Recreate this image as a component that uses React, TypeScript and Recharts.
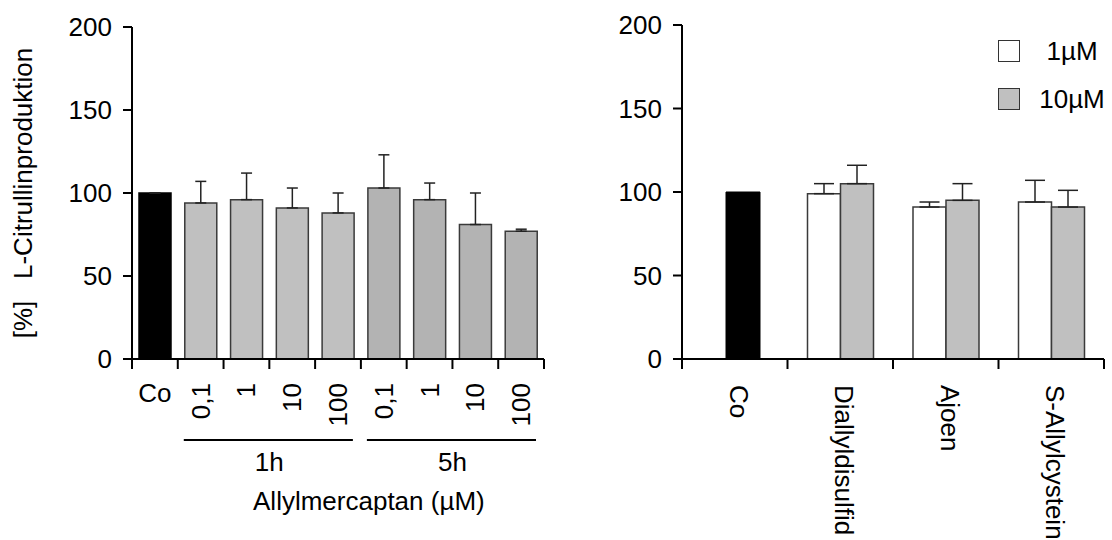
import React from 'react';
import { BarChart, Bar, XAxis, YAxis, ErrorBar, Cell, Legend } from 'recharts';

const FONT = '"Liberation Sans", Arial, Helvetica, sans-serif';

// linkes Diagramm: Allylmercaptan
const mercLabels = ['Co', '0,1', '1', '10', '100', '0,1', '1', '10', '100'];
const mercGroups = ['', '1h', '1h', '1h', '1h', '5h', '5h', '5h', '5h'];
const mercValues = [100, 94, 96, 91, 88, 103, 96, 81, 77];
const mercErrors = [0, 13, 16, 12, 12, 20, 10, 19, 1.2];

// rechtes Diagramm: Knoblauch-Inhaltsstoffe
const substances = ['Co', 'Diallyldisulfid', 'Ajoen', 'S-Allylcystein'];
const coValues = [100, null, null, null];
const oneMicro = [null, 99, 91, 94];
const oneMicroErr = [0, 6, 3, 13];
const tenMicro = [null, 105, 95, 91];
const tenMicroErr = [0, 11, 10, 10];
const legendNames = ['1µM', '10µM'];

const yTicks = [0, 50, 100, 150, 200];

const GROUP_COLORS: Record<string, string> = { '': '#000000', '1h': '#c0c0c0', '5h': '#b3b3b3' };

const mercData = mercLabels.map((label, i) => ({
  label: `${mercGroups[i]} ${label}`,
  value: mercValues[i],
  err: [0, mercErrors[i]],
}));

const substData = substances.map((name, i) => ({
  name,
  co: coValues[i],
  v1: oneMicro[i],
  v1err: [0, oneMicroErr[i]],
  v10: tenMicro[i],
  v10err: [0, tenMicroErr[i]],
}));

const halfBand = (props: any) => {
  const { payload, width, visibleTicksCount } = props;
  if (payload && typeof payload.offset === 'number' && payload.offset > 0) return payload.offset;
  return width / visibleTicksCount / 2;
};

const MercTick = (props: any) => {
  const { x, y, index, visibleTicksCount } = props;
  const half = halfBand(props);
  const last = index === visibleTicksCount - 1;
  const label = mercLabels[index];
  const ly = y + 24;
  const textProps = { fontSize: 26, fontFamily: FONT, fill: '#000' };

  return (
    <g>
      <line x1={x - half} y1={y} x2={x - half} y2={y + 10} stroke="#000" strokeWidth={2} />
      {last && <line x1={x + half} y1={y} x2={x + half} y2={y + 10} stroke="#000" strokeWidth={2} />}
      {index === 0 ? (
        <text x={x} y={y + 43} textAnchor="middle" {...textProps}>{label}</text>
      ) : (
        <text
          x={x}
          y={ly}
          transform={`rotate(-90 ${x} ${ly})`}
          textAnchor="end"
          dominantBaseline="central"
          {...textProps}
        >
          {label}
        </text>
      )}
      {/* Gruppenbeschriftung unter der ersten Säule jeder Zeitgruppe */}
      {(index === 1 || index === 5) && (
        <g>
          <line x1={x - half + 6} y1={y + 81} x2={x + 7 * half - 8} y2={y + 81} stroke="#000" strokeWidth={2} />
          <text x={x + 3 * half} y={y + 112} textAnchor="middle" {...textProps}>
            {mercGroups[index]}
          </text>
        </g>
      )}
      {index === 5 && (
        <text x={x - half + 8} y={y + 151} textAnchor="middle" {...textProps}>
          Allylmercaptan (µM)
        </text>
      )}
    </g>
  );
};

const SubstTick = (props: any) => {
  const { x, y, index, visibleTicksCount } = props;
  const half = halfBand(props);
  const last = index === visibleTicksCount - 1;
  const lx = x + 4;
  const ly = y + 26;
  return (
    <g>
      <line x1={x - half} y1={y} x2={x - half} y2={y + 10} stroke="#000" strokeWidth={2} />
      {last && <line x1={x + half} y1={y} x2={x + half} y2={y + 10} stroke="#000" strokeWidth={2} />}
      <text
        x={lx}
        y={ly}
        transform={`rotate(90 ${lx} ${ly})`}
        textAnchor="start"
        dominantBaseline="central"
        fontSize={26}
        fontFamily={FONT}
        fill="#000"
      >
        {substances[index]}
      </text>
    </g>
  );
};

const YLabel = ({ viewBox }: any) => {
  const cx = viewBox.x + 23;
  const cy = viewBox.y + viewBox.height / 2;
  return (
    <text
      x={cx}
      y={cy}
      transform={`rotate(-90 ${cx} ${cy})`}
      textAnchor="middle"
      dominantBaseline="central"
      fontSize={26}
      fontFamily={FONT}
      fill="#000"
    >
      {'[%]\u00a0\u00a0\u00a0L-Citrullinproduktion'}
    </text>
  );
};

const renderLegend = ({ payload }: any) => {
  const items = legendNames
    .map((n) => (payload || []).find((p: any) => p.value === n))
    .filter(Boolean);
  return (
    <div style={{ fontFamily: FONT, fontSize: 26, color: '#000' }}>
      {items.map((p: any) => (
        <div key={p.value} style={{ display: 'flex', alignItems: 'center', height: 48 }}>
          <div
            style={{
              width: 20,
              height: 20,
              border: '1.5px solid #333',
              background: p.color,
            }}
          />
          <span style={{ width: 100, marginLeft: 2, textAlign: 'center' }}>{p.value}</span>
        </div>
      ))}
    </div>
  );
};

const yAxisProps = {
  domain: [0, 200] as [number, number],
  ticks: yTicks,
  interval: 0 as const,
  tickSize: 9,
  tickMargin: 11,
  stroke: '#000',
  axisLine: { stroke: '#000', strokeWidth: 2 },
  tickLine: { stroke: '#000', strokeWidth: 2 },
  tick: { fill: '#000', fontSize: 26, fontFamily: FONT },
};

export default function App() {
  return (
    <div style={{ position: 'absolute', left: 0, top: 0, width: 1112, height: 540, background: '#fff', fontFamily: FONT }}>
      <div style={{ position: 'absolute', left: 0, top: 0 }}>
        <BarChart width={560} height={540} data={mercData} margin={{ top: 27, right: 16, bottom: 0, left: 0 }}>
          <YAxis {...yAxisProps} width={132} label={<YLabel />} />
          <XAxis
            dataKey="label"
            height={181}
            interval={0}
            tickSize={0}
            tickMargin={0}
            tickLine={false}
            axisLine={{ stroke: '#000', strokeWidth: 2 }}
            tick={<MercTick />}
          />
          <Bar dataKey="value" barSize={32} stroke="#3a3a3a" strokeWidth={1.5} isAnimationActive={false}>
            {mercGroups.map((g, i) => (
              <Cell key={i} fill={GROUP_COLORS[g]} stroke={g === '' ? '#000' : '#3a3a3a'} />
            ))}
            <ErrorBar dataKey="err" width={5.5} stroke="#222" strokeWidth={1.5} direction="y" isAnimationActive={false} />
          </Bar>
        </BarChart>
      </div>

      <div style={{ position: 'absolute', left: 556, top: 0 }}>
        <BarChart width={556} height={540} data={substData} barGap={0} margin={{ top: 25, right: 8, bottom: 0, left: 0 }}>
          <YAxis {...yAxisProps} width={126} />
          <XAxis xAxisId="co" dataKey="name" hide height={0} padding={{ left: 9, right: 0 }} />
          <XAxis
            xAxisId="pair"
            dataKey="name"
            height={181}
            interval={0}
            tickSize={0}
            tickMargin={0}
            tickLine={false}
            axisLine={{ stroke: '#000', strokeWidth: 2 }}
            tick={<SubstTick />}
          />
          <Legend
            content={renderLegend}
            layout="horizontal"
            verticalAlign="middle"
            align="center"
            wrapperStyle={{ left: 442, top: 27, width: 130 }}
          />
          <Bar xAxisId="co" dataKey="co" barSize={34} fill="#000" stroke="#000" legendType="none" isAnimationActive={false} />
          <Bar xAxisId="pair" dataKey="v1" name="1µM" barSize={33} fill="#ffffff" stroke="#3a3a3a" strokeWidth={1.5} isAnimationActive={false}>
            <ErrorBar dataKey="v1err" width={10} stroke="#222" strokeWidth={1.5} direction="y" isAnimationActive={false} />
          </Bar>
          <Bar xAxisId="pair" dataKey="v10" name="10µM" barSize={33} fill="#c0c0c0" stroke="#3a3a3a" strokeWidth={1.5} isAnimationActive={false}>
            <ErrorBar dataKey="v10err" width={10} stroke="#222" strokeWidth={1.5} direction="y" isAnimationActive={false} />
          </Bar>
        </BarChart>
      </div>
    </div>
  );
}
